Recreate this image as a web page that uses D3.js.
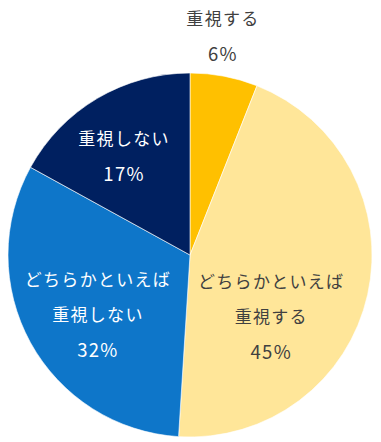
<!DOCTYPE html>
<html>
<head>
<meta charset="utf-8">
<script src="https://cdn.jsdelivr.net/npm/d3@7"></script>
<style>
  body { margin: 0; background: #fff; }
  svg { display: block; font-family: "Noto Sans CJK JP", "Noto Sans", sans-serif; }
</style>
</head>
<body>
<svg id="chart" width="381" height="442"></svg>
<script>
// data
const categories = ["重視する", "どちらかといえば\n重視する", "どちらかといえば\n重視しない", "重視しない"];
const values = [6, 45, 32, 17];
const colors = ["#FFC000", "#FFE699", "#0E76C9", "#002060"];
const textColors = ["#404040", "#404040", "#ffffff", "#ffffff"];

const width = 381, height = 442;
const cx = 190, cy = 255, r = 182;

// label placement: radius factor + small nudge (excel "best fit" style)
const labelRadius = [1.21, 0.6, 0.6, 0.6];
const labelNudge = [[-9, -3], [-26, 37], [3, 6], [-11, -6]];
const lineHeight = 35.5;
const ls = 1.3; // letter spacing

const svg = d3.select("#chart");
const g = svg.append("g").attr("transform", `translate(${cx},${cy})`);

const pie = d3.pie().sort(null).value(d => d.value);
const data = categories.map((c, i) => ({ name: c, value: values[i], i: i }));
const arcs = pie(data);

const arc = d3.arc().innerRadius(0).outerRadius(r);

g.selectAll("path")
  .data(arcs)
  .enter()
  .append("path")
  .attr("d", arc)
  .attr("fill", d => colors[d.data.i])
  .attr("stroke", "#fff")
  .attr("stroke-width", 0.6);

const labels = g.selectAll("g.lbl")
  .data(arcs)
  .enter()
  .append("g")
  .attr("class", "lbl")
  .attr("transform", d => {
    const k = labelRadius[d.data.i] * r;
    const c = d3.arc().innerRadius(k).outerRadius(k).centroid(d);
    const n = labelNudge[d.data.i];
    return `translate(${c[0] + n[0]},${c[1] + n[1]})`;
  });

labels.each(function (d) {
  const lines = d.data.name.split("\n").concat([d.data.value + "%"]);
  const sel = d3.select(this);
  const off = (lines.length - 1) / 2;
  lines.forEach((t, j) => {
    const isPct = j === lines.length - 1;
    sel.append("text")
      .attr("text-anchor", "middle")
      .attr("dominant-baseline", "central")
      .attr("x", ls / 2)
      .attr("y", (j - off) * lineHeight)
      .attr("fill", textColors[d.data.i])
      .style("font-size", isPct ? "18.5px" : "17px")
      .style("letter-spacing", ls + "px")
      .text(t);
  });
});
</script>
</body>
</html>
